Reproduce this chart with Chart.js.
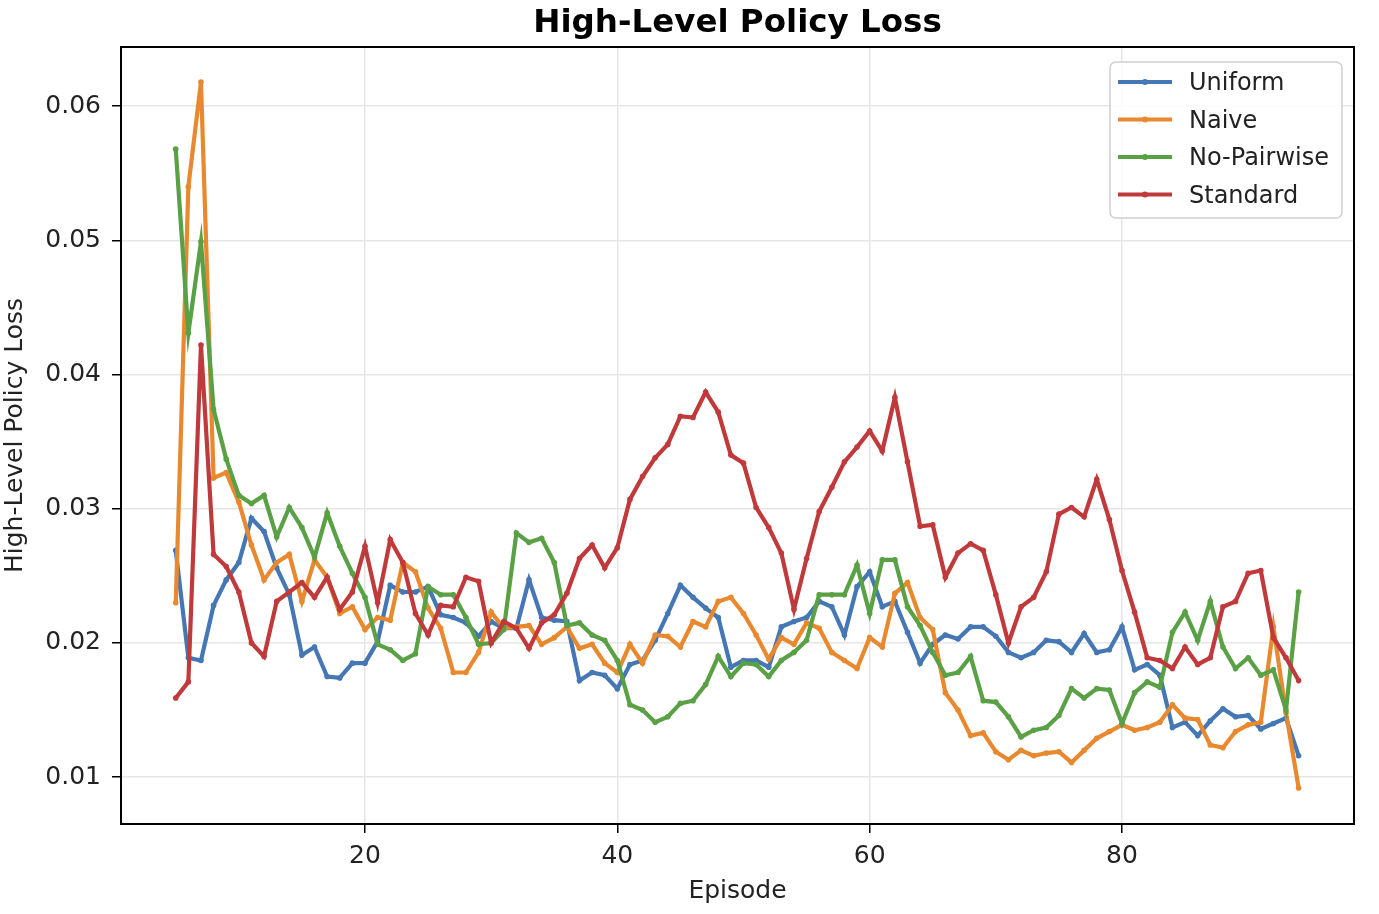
<!DOCTYPE html>
<html>
<head>
<meta charset="utf-8">
<title>High-Level Policy Loss</title>
<script src="https://cdn.jsdelivr.net/npm/chart.js@4/dist/chart.umd.min.js"></script>
<style>
  html, body { margin: 0; padding: 0; background: #fff; }
  #wrap { width: 1379px; height: 914px; position: relative; }
</style>
</head>
<body>
<div id="wrap"><canvas id="lossChart"></canvas></div>
<script>
// Data
const episodes = [5, 6, 7, 8, 9, 10, 11, 12, 13, 14, 15, 16, 17, 18, 19, 20, 21, 22, 23, 24,
    25, 26, 27, 28, 29, 30, 31, 32, 33, 34, 35, 36, 37, 38, 39, 40, 41, 42, 43, 44,
    45, 46, 47, 48, 49, 50, 51, 52, 53, 54, 55, 56, 57, 58, 59, 60, 61, 62, 63, 64,
    65, 66, 67, 68, 69, 70, 71, 72, 73, 74, 75, 76, 77, 78, 79, 80, 81, 82, 83, 84,
    85, 86, 87, 88, 89, 90, 91, 92, 93, 94];

const uniform = [0.0269, 0.0189, 0.0187, 0.0228, 0.0247, 0.0260, 0.0293, 0.0283, 0.0256, 0.0236,
    0.0191, 0.0197, 0.0175, 0.0174, 0.0185, 0.0185, 0.0201, 0.0243, 0.0238, 0.0238,
    0.0242, 0.0221, 0.0219, 0.0215, 0.0205, 0.0216, 0.0211, 0.0211, 0.0247, 0.0219,
    0.0217, 0.0216, 0.0172, 0.0178, 0.0176, 0.0166, 0.0184, 0.0187, 0.0202, 0.0222,
    0.0243, 0.0234, 0.0226, 0.0219, 0.0182, 0.0187, 0.0187, 0.0182, 0.0212, 0.0216,
    0.0219, 0.0231, 0.0227, 0.0206, 0.0242, 0.0253, 0.0227, 0.0231, 0.0208, 0.0185,
    0.0199, 0.0206, 0.0203, 0.0212, 0.0212, 0.0205, 0.0193, 0.0189, 0.0193, 0.0202,
    0.0201, 0.0193, 0.0207, 0.0193, 0.0195, 0.0212, 0.0180, 0.0184, 0.0176, 0.0137,
    0.0141, 0.0131, 0.0142, 0.0151, 0.0145, 0.0146, 0.0136, 0.0140, 0.0144, 0.0116];

const naive = [0.0230, 0.0540, 0.0618, 0.0323, 0.0327, 0.0305, 0.0273, 0.0247, 0.0260, 0.0266,
    0.0231, 0.0262, 0.0249, 0.0222, 0.0227, 0.0210, 0.0219, 0.0217, 0.0260, 0.0253,
    0.0226, 0.0211, 0.0178, 0.0178, 0.0193, 0.0223, 0.0211, 0.0212, 0.0213, 0.0199,
    0.0204, 0.0212, 0.0196, 0.0199, 0.0185, 0.0178, 0.0199, 0.0185, 0.0206, 0.0205,
    0.0197, 0.0216, 0.0212, 0.0231, 0.0234, 0.0222, 0.0206, 0.0188, 0.0204, 0.0199,
    0.0215, 0.0211, 0.0193, 0.0187, 0.0181, 0.0204, 0.0197, 0.0237, 0.0245, 0.0219,
    0.0210, 0.0163, 0.0150, 0.0131, 0.0133, 0.0119, 0.0113, 0.0120, 0.0116, 0.0118,
    0.0119, 0.0111, 0.0120, 0.0129, 0.0134, 0.0139, 0.0135, 0.0137, 0.0141, 0.0154,
    0.0144, 0.0143, 0.0124, 0.0122, 0.0134, 0.0139, 0.0141, 0.0212, 0.0148, 0.0092];

const noPairwise = [0.0568, 0.0431, 0.0499, 0.0374, 0.0337, 0.0310, 0.0304, 0.0310, 0.0279, 0.0301,
    0.0286, 0.0264, 0.0297, 0.0272, 0.0252, 0.0234, 0.0199, 0.0195, 0.0187, 0.0192,
    0.0242, 0.0236, 0.0236, 0.0219, 0.0199, 0.0200, 0.0210, 0.0282, 0.0275, 0.0278,
    0.0260, 0.0213, 0.0215, 0.0206, 0.0202, 0.0187, 0.0154, 0.0150, 0.0141, 0.0145,
    0.0155, 0.0157, 0.0169, 0.0190, 0.0175, 0.0185, 0.0184, 0.0175, 0.0187, 0.0193,
    0.0202, 0.0236, 0.0236, 0.0236, 0.0258, 0.0222, 0.0262, 0.0262, 0.0227, 0.0213,
    0.0193, 0.0176, 0.0178, 0.0190, 0.0157, 0.0156, 0.0145, 0.0130, 0.0135, 0.0137,
    0.0146, 0.0166, 0.0159, 0.0166, 0.0165, 0.0140, 0.0163, 0.0171, 0.0167, 0.0208,
    0.0223, 0.0202, 0.0231, 0.0197, 0.0181, 0.0189, 0.0176, 0.0180, 0.0150, 0.0238];

const standard = [0.0159, 0.0171, 0.0422, 0.0266, 0.0257, 0.0238, 0.0200, 0.0190, 0.0231, 0.0238,
    0.0245, 0.0234, 0.0249, 0.0225, 0.0238, 0.0272, 0.0230, 0.0277, 0.0260, 0.0222,
    0.0206, 0.0228, 0.0227, 0.0249, 0.0246, 0.0200, 0.0216, 0.0211, 0.0196, 0.0215,
    0.0221, 0.0237, 0.0263, 0.0273, 0.0256, 0.0271, 0.0307, 0.0324, 0.0338, 0.0348,
    0.0369, 0.0368, 0.0387, 0.0372, 0.0340, 0.0334, 0.0301, 0.0286, 0.0267, 0.0225,
    0.0263, 0.0298, 0.0316, 0.0335, 0.0346, 0.0358, 0.0343, 0.0383, 0.0335, 0.0287,
    0.0288, 0.0249, 0.0267, 0.0274, 0.0269, 0.0236, 0.0200, 0.0227, 0.0234, 0.0253,
    0.0296, 0.0301, 0.0294, 0.0322, 0.0292, 0.0254, 0.0223, 0.0189, 0.0187, 0.0181,
    0.0197, 0.0184, 0.0189, 0.0227, 0.0231, 0.0252, 0.0254, 0.0204, 0.0189, 0.0172];

const seriesNames = ["Uniform", "Naive", "No-Pairwise", "Standard"];
const seriesColors = ["#4477b3", "#e8892f", "#5aa045", "#c0393b"];
const xTicks = [20, 40, 60, 80];
const yTicks = [0.01, 0.02, 0.03, 0.04, 0.05, 0.06];

const FONT = "'DejaVu Sans', 'Liberation Sans', sans-serif";

function toPoints(values) {
    return episodes.map((ep, i) => ({ x: ep, y: values[i] }));
}

// frame around the plot + title + legend inside top right
const decorations = {
    id: 'decorations',
    afterDraw(chart) {
        const ctx = chart.ctx;
        const a = chart.chartArea;
        ctx.save();
        ctx.strokeStyle = '#000';
        ctx.lineWidth = 2;
        ctx.strokeRect(a.left, a.top, a.right - a.left, a.bottom - a.top);

        // title
        ctx.fillStyle = '#000';
        ctx.font = "bold 32.5px " + FONT;
        ctx.textAlign = 'center';
        ctx.textBaseline = 'alphabetic';
        ctx.fillText("High-Level Policy Loss", (a.left + a.right) / 2, 32);

        // legend
        const bx = 1110, by = 62, bw = 232, bh = 156, r = 6;
        ctx.beginPath();
        ctx.moveTo(bx + r, by);
        ctx.arcTo(bx + bw, by, bx + bw, by + bh, r);
        ctx.arcTo(bx + bw, by + bh, bx, by + bh, r);
        ctx.arcTo(bx, by + bh, bx, by, r);
        ctx.arcTo(bx, by, bx + bw, by, r);
        ctx.closePath();
        ctx.fillStyle = 'rgba(255,255,255,0.85)';
        ctx.fill();
        ctx.strokeStyle = '#d0d0d0';
        ctx.lineWidth = 1.5;
        ctx.stroke();

        ctx.font = "24px " + FONT;
        ctx.textAlign = 'left';
        ctx.textBaseline = 'middle';
        seriesNames.forEach((name, i) => {
            const y = 82 + i * 37.5;
            ctx.strokeStyle = seriesColors[i];
            ctx.lineWidth = 4.2;
            ctx.beginPath();
            ctx.moveTo(1118, y);
            ctx.lineTo(1172, y);
            ctx.stroke();
            ctx.fillStyle = seriesColors[i];
            ctx.beginPath();
            ctx.arc(1145, y, 3, 0, Math.PI * 2);
            ctx.fill();
            ctx.fillStyle = '#222';
            ctx.fillText(name, 1189, y + 2);
        });
        ctx.restore();
    }
};

document.addEventListener("DOMContentLoaded", function () {
    const ctx = document.getElementById('lossChart').getContext('2d');
    const allSeries = [uniform, naive, noPairwise, standard];

    new Chart(ctx, {
        type: 'line',
        data: {
            datasets: allSeries.map((vals, i) => ({
                label: seriesNames[i],
                data: toPoints(vals),
                borderColor: seriesColors[i],
                backgroundColor: seriesColors[i],
                borderWidth: 4.2,
                pointRadius: 2.8,
                pointBorderWidth: 0,
                pointBackgroundColor: seriesColors[i],
                tension: 0,
                fill: false,
                order: allSeries.length - i
            }))
        },
        options: {
            responsive: true,
            maintainAspectRatio: false,
            animation: false,
            devicePixelRatio: 1,
            layout: { padding: { top: 47, right: 25, left: 0, bottom: 0 } },
            plugins: {
                legend: { display: false },
                tooltip: { enabled: false },
                title: { display: false }
            },
            scales: {
                x: {
                    type: 'linear',
                    min: 0.661,
                    max: 98.39,
                    afterBuildTicks: scale => { scale.ticks = xTicks.map(v => ({ value: v })); },
                    afterFit: scale => { scale.height = 90; },
                    grid: { color: '#e6e6e6', lineWidth: 1.5, tickColor: '#000', tickLength: 9, tickWidth: 1.5 },
                    border: { display: false },
                    ticks: {
                        color: '#222',
                        font: { family: FONT, size: 25 },
                        padding: 8,
                        maxRotation: 0,
                        callback: v => String(v)
                    },
                    title: {
                        display: true,
                        text: 'Episode',
                        color: '#222',
                        font: { family: FONT, size: 25 },
                        padding: { top: 0, bottom: 8 }
                    }
                },
                y: {
                    type: 'linear',
                    min: 0.006513,
                    max: 0.06441,
                    afterBuildTicks: scale => { scale.ticks = yTicks.map(v => ({ value: v })); },
                    afterFit: scale => { scale.width = 121; },
                    grid: { color: '#e6e6e6', lineWidth: 1.5, tickColor: '#000', tickLength: 9, tickWidth: 1.5 },
                    border: { display: false },
                    ticks: {
                        color: '#222',
                        font: { family: FONT, size: 25 },
                        padding: 11,
                        callback: v => v.toFixed(2)
                    },
                    title: {
                        display: true,
                        text: 'High-Level Policy Loss',
                        color: '#222',
                        font: { family: FONT, size: 25 },
                        padding: { top: 0, bottom: 0 }
                    }
                }
            }
        },
        plugins: [decorations]
    });
});
</script>
</body>
</html>
